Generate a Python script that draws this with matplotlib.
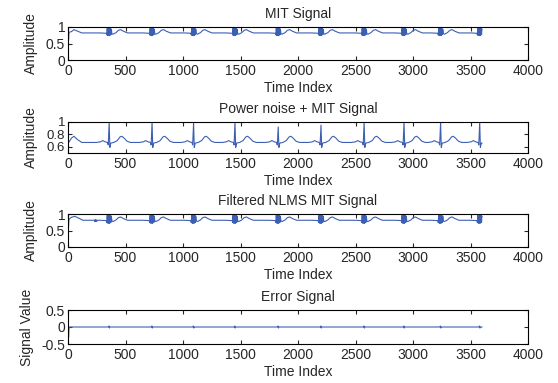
import matplotlib
matplotlib.use("Agg")
import matplotlib.pyplot as plt
import numpy as np

plt.rcParams.update({'font.family': ['Liberation Sans', 'DejaVu Sans'], 'font.size': 10,
                     'axes.linewidth': 0.8, 'xtick.direction': 'in', 'ytick.direction': 'in',
                     'xtick.top': True, 'ytick.right': True,
                     'xtick.major.size': 3, 'ytick.major.size': 3,
                     'xtick.major.width': 0.8, 'ytick.major.width': 0.8})

LINE = '#3d5fb3'
TXT = '#262626'
N_SAMPLES = 3600

# R-peak sample positions
r_peaks = [358, 731, 1092, 1452, 1828, 2200, 2575, 2922, 3240, 3580]

# MIT signal: start of record and shape around each beat (offset from R, value)
mit_start_x = [0, 2, 5, 9, 30, 52, 80, 120]
mit_start_y = [0.55, 0.86, 0.62, 0.84, 0.86, 0.92, 0.88, 0.82]
mit_beat_dx = [-80, -24, -20, -17, -14, -11, -8, -5, -2, 1, 4, 7, 10, 13, 16, 19, 24, 32,
               60, 80, 100, 125, 160]
mit_beat_y = [0.82, 0.81, 0.76, 0.96, 0.75, 0.97, 0.74, 0.98, 0.75, 0.97, 0.74, 0.96, 0.76,
              0.95, 0.77, 0.93, 0.80, 0.78, 0.83, 0.90, 0.92, 0.87, 0.82]

# power noise + MIT signal
noisy_start_x = [0, 10, 30, 52, 80, 120]
noisy_start_y = [0.66, 0.68, 0.74, 0.77, 0.72, 0.67]
noisy_beat_dx = [-110, -75, -55, -35, -14, -8, 0, 6, 14, 40, 70, 95, 110, 130, 155, 185]
noisy_beat_y = [0.67, 0.68, 0.70, 0.68, 0.67, 0.63, None, 0.59, 0.66, 0.67, 0.70, 0.76,
                0.77, 0.74, 0.69, 0.67]
noisy_r_height = [1.0, 1.0, 0.99, 1.0, 0.92, 0.95, 1.0, 1.0, 1.0, 1.0]

# filtered NLMS signal
filt_start_x = [0, 3, 8, 30, 60, 90, 130, 230, 234, 238, 242, 246, 250, 254]
filt_start_y = [0.0, 0.5, 0.84, 0.90, 0.93, 0.88, 0.81, 0.81, 0.77, 0.83, 0.77, 0.82, 0.78, 0.81]
filt_beat_dx = [-80, -24, -20, -17, -14, -11, -8, -5, -2, 1, 4, 7, 10, 13, 16, 19, 24, 32,
                60, 80, 100, 125, 160]
filt_beat_y = [0.81, 0.80, 0.74, 0.96, 0.73, 0.97, 0.72, 0.98, 0.73, 0.97, 0.72, 0.96, 0.74,
               0.95, 0.75, 0.93, 0.79, 0.77, 0.82, 0.89, 0.91, 0.86, 0.81]

# error signal
err_start_x = [0, 2, 5, 10]
err_start_y = [-0.55, 0.03, -0.3, 0.0]
err_beat_dx = [-6, -2, 2, 6]
err_beat_y = [0.0, 0.03, -0.03, 0.0]


def build(sx, sy, dx, dy, peaks, r_heights=None):
    xs, ys = list(sx), list(sy)
    for i, r in enumerate(peaks):
        for d, v in zip(dx, dy):
            if v is None:
                v = r_heights[i]
            if r + d <= N_SAMPLES and r + d > xs[-1]:
                xs.append(r + d)
                ys.append(v)
    if xs[-1] < N_SAMPLES:
        xs.append(N_SAMPLES)
        ys.append(ys[-1])
    return xs, ys


panels = [
    ('MIT Signal', 'Amplitude', build(mit_start_x, mit_start_y, mit_beat_dx, mit_beat_y, r_peaks),
     (0, 1), [0, 0.5, 1], ['0', '0.5', '1'], -0.066),
    ('Power noise + MIT Signal', 'Amplitude',
     build(noisy_start_x, noisy_start_y, noisy_beat_dx, noisy_beat_y, r_peaks, noisy_r_height),
     (0.5, 1), [0.6, 0.8, 1], ['0.6', '0.8', '1'], -0.066),
    ('Filtered NLMS MIT Signal', 'Amplitude',
     build(filt_start_x, filt_start_y, filt_beat_dx, filt_beat_y, r_peaks),
     (0, 1), [0, 0.5, 1], ['0', '0.5', '1'], -0.066),
    ('Error Signal', 'Signal Value', build(err_start_x, err_start_y, err_beat_dx, err_beat_y, r_peaks),
     (-0.5, 0.5), [-0.5, 0, 0.5], ['-0.5', '0', '0.5'], -0.075),
]

fig = plt.figure(figsize=(5.58, 3.83), dpi=100)
W, H = 558, 383
boxes = [(27, 60), (122, 153), (214, 247), (310, 344)]
left, right = 68, 528

for (title, ylab, (xs, ys), ylim, yt, ytl, ylx), (top, bot) in zip(panels, boxes):
    ax = fig.add_axes([left / W, 1 - bot / H, (right - left) / W, (bot - top) / H])
    ax.plot(xs, ys, color=LINE, lw=0.8)
    ax.set_xlim(0, 4000)
    ax.set_ylim(*ylim)
    ax.set_xticks(np.arange(0, 4001, 500))
    ax.set_yticks(yt)
    ax.set_yticklabels(ytl)
    ax.tick_params(axis='x', labelsize=10, colors=TXT, pad=3)
    ax.tick_params(axis='y', labelsize=9.5 if ylim[0] == 0.5 else 10, colors=TXT, pad=2)
    ax.set_title(title, fontsize=10, pad=6.5, color=TXT)
    ax.set_xlabel('Time Index', labelpad=2, color=TXT)
    ax.set_ylabel(ylab, color=TXT)
    ax.yaxis.set_label_coords(ylx, 0.5)

fig.savefig('out.png', dpi=100)
